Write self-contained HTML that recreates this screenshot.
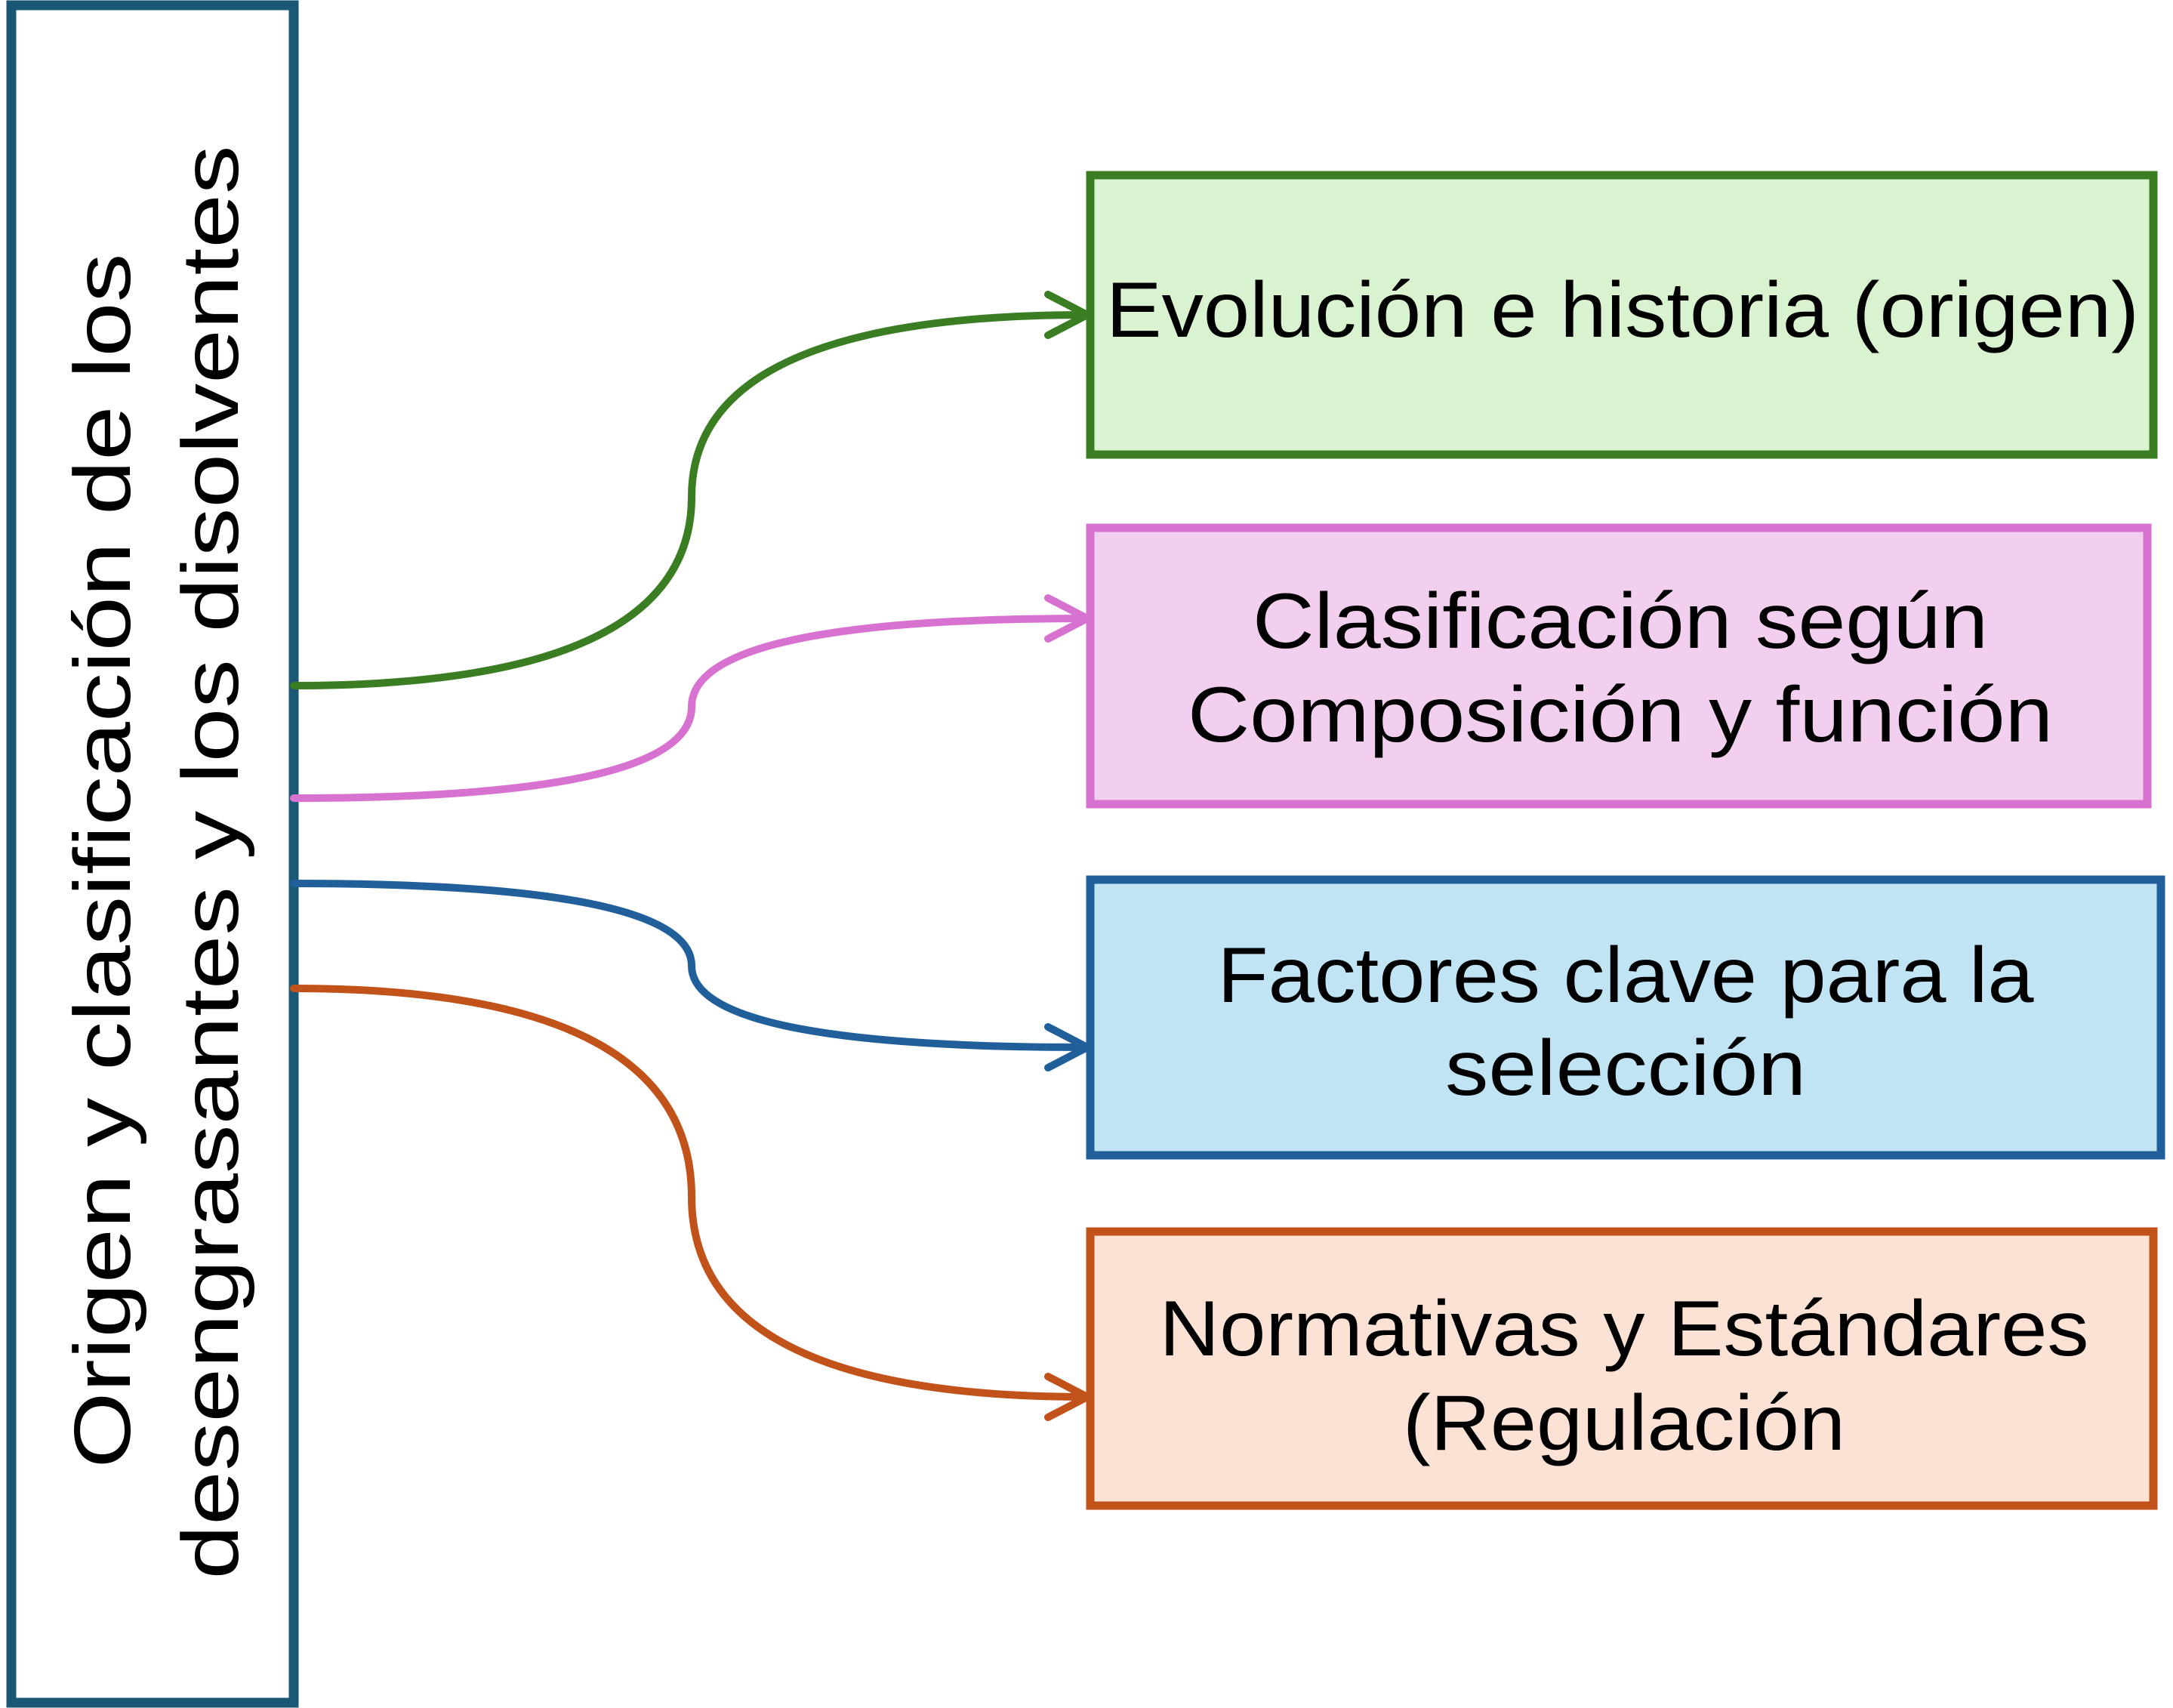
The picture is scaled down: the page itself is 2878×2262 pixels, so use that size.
<!DOCTYPE html>
<html><head><meta charset="utf-8"><style>html,body{margin:0;padding:0;background:#fff}svg{display:block}</style></head>
<body>
<svg width="2878" height="2262" viewBox="0 0 2878 2262" xmlns="http://www.w3.org/2000/svg" font-family="Liberation Sans, sans-serif">
<rect x="15" y="7" width="374" height="2248" fill="#fff" stroke="#1b5876" stroke-width="13"/>
<g transform="translate(172,1140) rotate(-90)"><text x="0" y="0" text-anchor="middle" font-size="106" textLength="1609" lengthAdjust="spacingAndGlyphs">Origen y clasificación de los</text></g>
<g transform="translate(315,1142) rotate(-90)"><text x="0" y="0" text-anchor="middle" font-size="106" textLength="1899" lengthAdjust="spacingAndGlyphs">desengrasantes y los disolventes</text></g>

<rect x="1444" y="232" width="1408" height="370" fill="#d9f2d0" stroke="#3a7d23" stroke-width="11"/>
<rect x="1444" y="699" width="1400" height="366" fill="#f2cfee" stroke="#d872d0" stroke-width="11"/>
<rect x="1444" y="1165" width="1418" height="365" fill="#c1e4f5" stroke="#215f9a" stroke-width="11"/>
<rect x="1444" y="1631" width="1408" height="363" fill="#fbe2d5" stroke="#c0521a" stroke-width="11"/>

<g font-size="104" fill="#000" text-anchor="middle">
<text x="2149" y="446" textLength="1368" lengthAdjust="spacingAndGlyphs">Evolución e historia (origen)</text>
<text x="2146" y="858" textLength="974" lengthAdjust="spacingAndGlyphs">Clasificación según</text>
<text x="2146" y="982" textLength="1146" lengthAdjust="spacingAndGlyphs">Composición y función</text>
<text x="2153" y="1327" textLength="1081" lengthAdjust="spacingAndGlyphs">Factores clave para la</text>
<text x="2153" y="1450" textLength="478" lengthAdjust="spacingAndGlyphs">selección</text>
<text x="2151" y="1795" textLength="1231" lengthAdjust="spacingAndGlyphs">Normativas y Estándares</text>
<text x="2151" y="1920" textLength="586" lengthAdjust="spacingAndGlyphs">(Regulación</text>
</g>

<g fill="none" stroke-width="10" stroke-linecap="round" stroke-linejoin="round">
<path d="M389 908 Q916 908 916 658 Q916 417 1440 417" stroke="#3a7d23"/>
<path d="M1388 390 L1440 417 L1388 444" stroke="#3a7d23"/>
<path d="M389 1057 Q916 1057 916 936 Q916 819 1440 819" stroke="#d872d0"/>
<path d="M1388 792 L1440 819 L1388 846" stroke="#d872d0"/>
<path d="M389 1170 Q916 1170 916 1279 Q916 1387 1440 1387" stroke="#215f9a"/>
<path d="M1388 1360 L1440 1387 L1388 1414" stroke="#215f9a"/>
<path d="M389 1309 Q916 1309 916 1585 Q916 1850 1440 1850" stroke="#c0521a"/>
<path d="M1388 1823 L1440 1850 L1388 1877" stroke="#c0521a"/>
</g>
</svg>
</body></html>
